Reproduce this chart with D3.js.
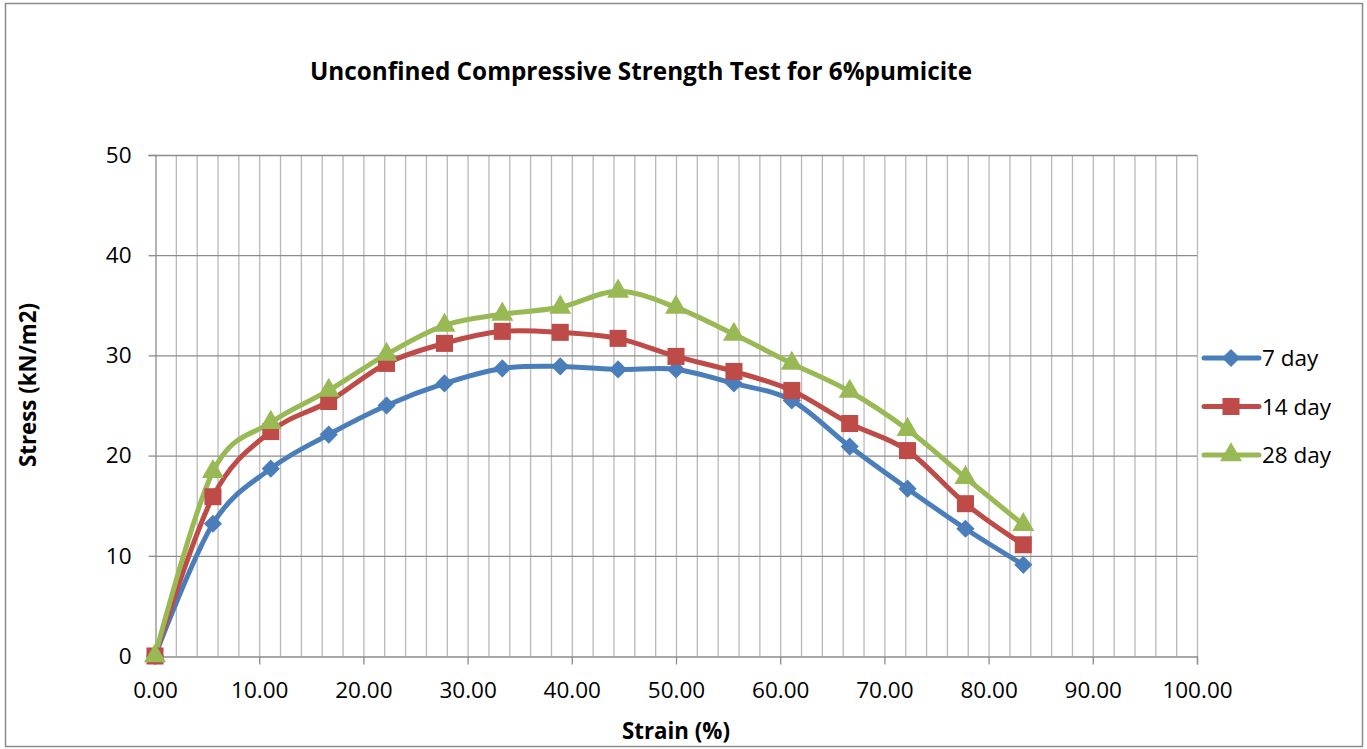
<!DOCTYPE html>
<html><head><meta charset="utf-8">
<script src="https://cdn.jsdelivr.net/npm/d3@7"></script>
<style>body{margin:0;background:#fff}svg{display:block}text{font-family:"Open Sans","Liberation Sans",sans-serif}</style>
</head><body><svg id="c" width="1367" height="749"></svg>
<script>
const strain = [0, 5.56, 11.11, 16.67, 22.22, 27.78, 33.33, 38.89, 44.44, 50.00, 55.56, 61.11, 66.67, 72.22, 77.78, 83.33];
const day7  = [0, 13.2, 18.7, 22.1, 25.0, 27.2, 28.7, 28.9, 28.6, 28.6, 27.2, 25.5, 20.9, 16.7, 12.7, 9.1];
const day14 = [0, 15.9, 22.4, 25.4, 29.2, 31.2, 32.4, 32.3, 31.7, 29.9, 28.4, 26.5, 23.2, 20.5, 15.2, 11.1];
const day28 = [0, 18.4, 23.3, 26.5, 30.1, 33.0, 34.1, 34.8, 36.4, 34.8, 32.1, 29.2, 26.4, 22.6, 17.8, 13.1];
const seriesNames = ["7 day", "14 day", "28 day"];
const xTicks = [0,10,20,30,40,50,60,70,80,90,100];
const yTicks = [0,10,20,30,40,50];
const title = "Unconfined Compressive Strength Test for 6%pumicite";
const xTitle = "Strain (%)";
const yTitle = "Stress (kN/m2)";

const colors = ["#4A7EBB", "#BE4B48", "#98B954"];
const symbols = [d3.symbolSquare, d3.symbolSquare, d3.symbolTriangle];
const symRot = [45, 0, 0];
const symSizes = [165, 290, 210];
const series = [day7, day14, day28];

const svg = d3.select("#c");
svg.append("rect").attr("x",5.5).attr("y",3.5).attr("width",1357).attr("height",743)
  .attr("fill","#fff").attr("stroke","#8c8c8c").attr("stroke-width",1.5);

const x = d3.scaleLinear().domain([0,100]).range([155,1197]);
const y = d3.scaleLinear().domain([0,50]).range([656,155]);

// vertical minor gridlines every 2
const g = svg.append("g");
g.selectAll("line.v").data(d3.range(2,101,2)).join("line")
  .attr("x1",d=>x(d)+0.5).attr("x2",d=>x(d)+0.5).attr("y1",y(50)).attr("y2",y(0))
  .attr("stroke","#b9b9b9").attr("stroke-width",1.3);
g.selectAll("line.h").data(yTicks.slice(1)).join("line")
  .attr("x1",x(0)).attr("x2",x(100)).attr("y1",d=>y(d)+0.5).attr("y2",d=>y(d)+0.5)
  .attr("stroke","#8c8c8c").attr("stroke-width",1.3);

// axes
const xa = svg.append("g").attr("transform",`translate(0,${y(0)+0.5})`)
  .call(d3.axisBottom(x).tickValues(xTicks).tickFormat(d3.format(".2f")).tickSize(8).tickPadding(18));
const ya = svg.append("g").attr("transform",`translate(${x(0)+0.5},0)`)
  .call(d3.axisLeft(y).tickValues(yTicks).tickSize(7).tickPadding(17));
[xa,ya].forEach(a=>{
  a.select(".domain").attr("stroke","#8c8c8c").attr("stroke-width",1.3);
  a.selectAll(".tick line").attr("stroke","#8c8c8c").attr("stroke-width",1.3);
  a.selectAll(".tick text").attr("font-size",22.5).attr("fill","#000");
});

// lines
const line = d3.line().x((d,i)=>x(strain[i])).y(d=>y(d)).curve(d3.curveCatmullRom.alpha(0));
series.forEach((s,k)=>{
  svg.append("path").attr("d",line(s)).attr("fill","none").attr("stroke",colors[k])
    .attr("stroke-width",5).attr("stroke-linejoin","round");
});
series.forEach((s,k)=>{
  svg.append("g").selectAll("path").data(s).join("path")
    .attr("transform",(d,i)=>`translate(${x(strain[i])},${y(d)}) rotate(${symRot[k]})`)
    .attr("d",d3.symbol().type(symbols[k]).size(symSizes[k])).attr("fill",colors[k]);
});

// legend
const leg = svg.append("g");
seriesNames.forEach((n,k)=>{
  const yy = 358 + k*48.5;
  leg.append("line").attr("x1",1204).attr("x2",1259).attr("y1",yy).attr("y2",yy)
    .attr("stroke",colors[k]).attr("stroke-width",5).attr("stroke-linecap","round");
  leg.append("path").attr("transform",`translate(1231,${yy}) rotate(${symRot[k]})`)
    .attr("d",d3.symbol().type(symbols[k]).size(symSizes[k])).attr("fill",colors[k]);
  leg.append("text").attr("x",1262).attr("y",yy+8).attr("font-size",22.5).text(n);
});

// titles
svg.append("text").attr("x",641).attr("y",80).attr("text-anchor","middle")
  .attr("font-size",24.3).attr("font-weight","bold").text(title);
svg.append("text").attr("x",676).attr("y",739).attr("text-anchor","middle")
  .attr("font-size",22.3).attr("font-weight","bold").text(xTitle);
svg.append("text").attr("transform","translate(36,385) rotate(-90)").attr("text-anchor","middle")
  .attr("font-size",22.3).attr("font-weight","bold").text(yTitle);
</script></body></html>
